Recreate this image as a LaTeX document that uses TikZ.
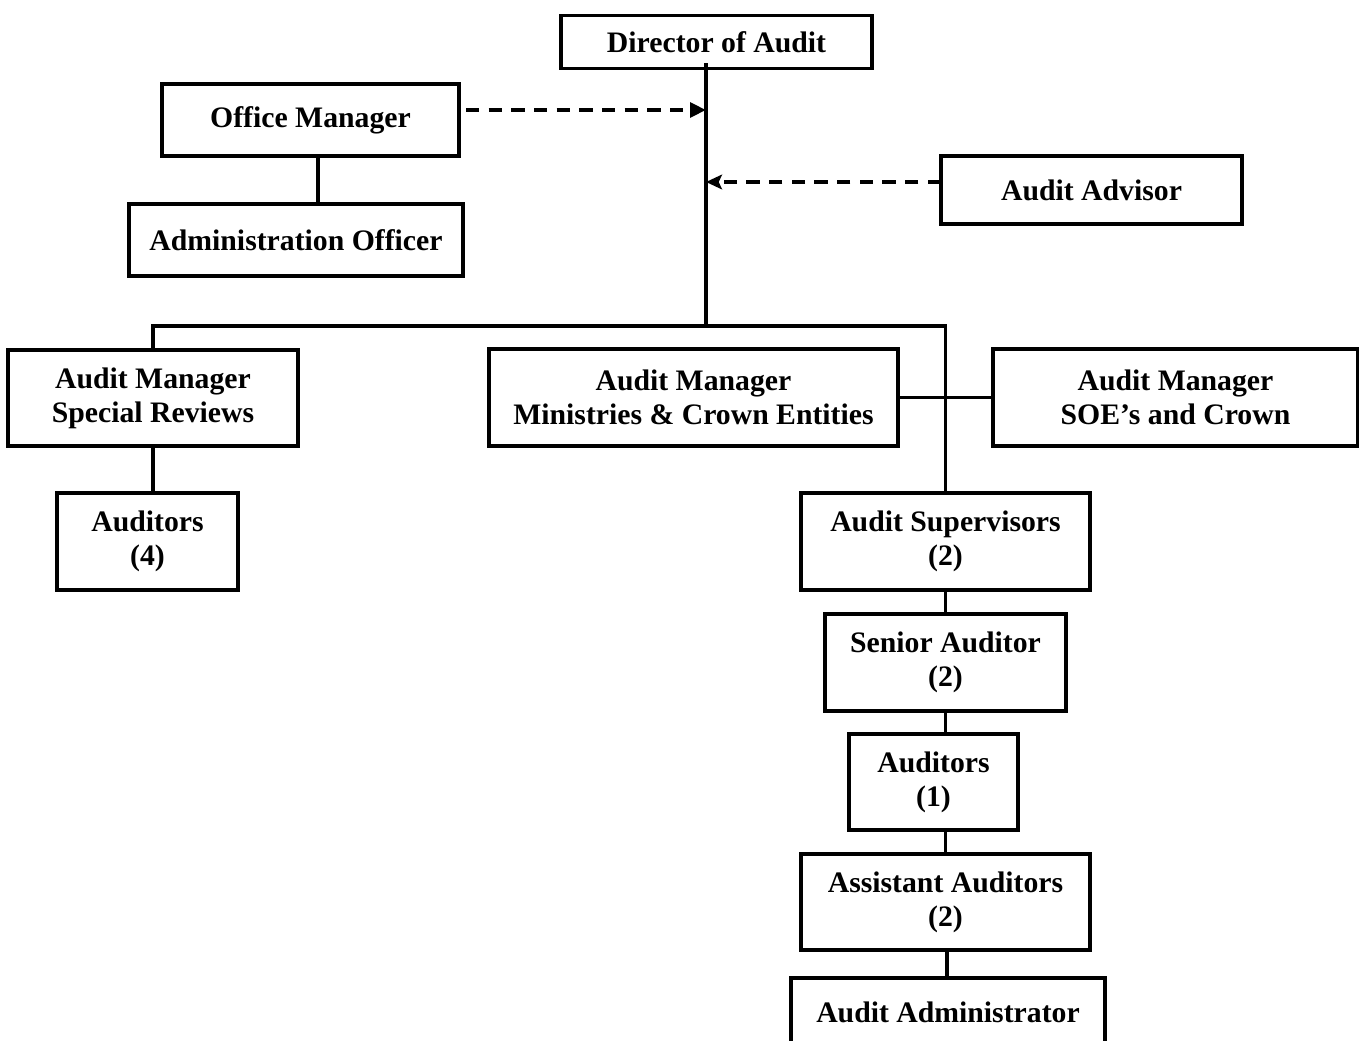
\documentclass[tikz,border=0pt]{standalone}
\usepackage{fontspec}
\setmainfont{Liberation Serif}
\usepackage{tikz}
\usetikzlibrary{arrows.meta,calc}

\begin{document}
\begin{tikzpicture}[
  x=0.75pt, y=-0.75pt,
  box/.style={draw, line width=2.4pt, align=center, outer sep=0pt, inner sep=0pt,
    font=\bfseries\fontsize{22.3}{25.5}\selectfont},
  ln/.style={line width=2.3pt},
  dasharr/.style={line width=2.9pt, dash pattern=on 10pt off 7pt}
]
\clip (0,0) rectangle (1359,1041);
% top of the chart
\node[box, minimum width=233.25pt, minimum height=39.75pt] (dir) at (716.5,42) {Director of Audit};
\node[box, minimum width=222.75pt, minimum height=54pt] (om) at (310.5,120) {Office Manager};
\node[box, minimum width=250.5pt, minimum height=54pt] (ao) at (296,240) {Administration Officer};
\node[box, minimum width=225.75pt, minimum height=51pt] (adv) at (1091.5,190) {Audit Advisor};
% managers
\node[box, minimum width=217.5pt, minimum height=72pt] (amsr) at (153,398) {Audit Manager\\Special Reviews};
\node[box, minimum width=306.75pt, minimum height=72.75pt] (ammin) at (693.5,397.5) {Audit Manager\\Ministries \& Crown Entities};
\node[box, minimum width=273.75pt, minimum height=72.75pt] (amsoe) at (1175.5,397.5) {Audit Manager\\SOE’s and Crown};
\node[box, minimum width=135.75pt, minimum height=72.75pt] (aud4) at (147.5,541.5) {Auditors\\(4)};
% audit team
\node[box, minimum width=216.75pt, minimum height=72.75pt] (sup) at (945.5,541.5) {Audit Supervisors\\(2)};
\node[box, minimum width=180.75pt, minimum height=72.75pt] (sen) at (945.5,662.5) {Senior Auditor\\(2)};
\node[box, minimum width=126.75pt, minimum height=72pt] (aud1) at (933.5,782) {Auditors\\(1)};
\node[box, minimum width=216.75pt, minimum height=72pt] (asst) at (945.5,902) {Assistant Auditors\\(2)};
\node[box, minimum width=235.5pt, minimum height=51pt] (adm) at (948,1012) {Audit Administrator};

\coordinate (spine) at (706,326);
\coordinate (omin) at (706,110);
\coordinate (advin) at (706,182);

\draw[ln] ($(dir.south -| spine)+(0,-5)$) -- (spine);
\draw[ln] (amsr.north) |- (spine) -| (sup.north);
\draw[ln] (ammin.east) -- (amsoe.west);
\draw[ln] ($(om.south)+(7.5,0)$) -- ($(om.south |- ao.north)+(7.5,0)$);
\draw[ln] (amsr.south) -- (amsr.south |- aud4.north);
\draw[ln] (sup.south) -- (sen.north);
\draw[ln] (sen.south) -- (sen.south |- aud1.north);
\draw[ln] (asst.north) -- (asst.north |- aud1.south);
\draw[ln] ($(asst.south)+(1.5,0)$) -- ($(asst.south |- adm.north)+(1.5,0)$);

\draw[dasharr, shorten <=5.25pt, -{Triangle[length=12pt,width=11pt]}] (om.east |- omin) -- (omin);
\draw[dasharr, -{Stealth[length=12pt,width=11pt,inset=2.5pt]}] (adv.west |- advin) -- (advin);
\end{tikzpicture}
\end{document}
